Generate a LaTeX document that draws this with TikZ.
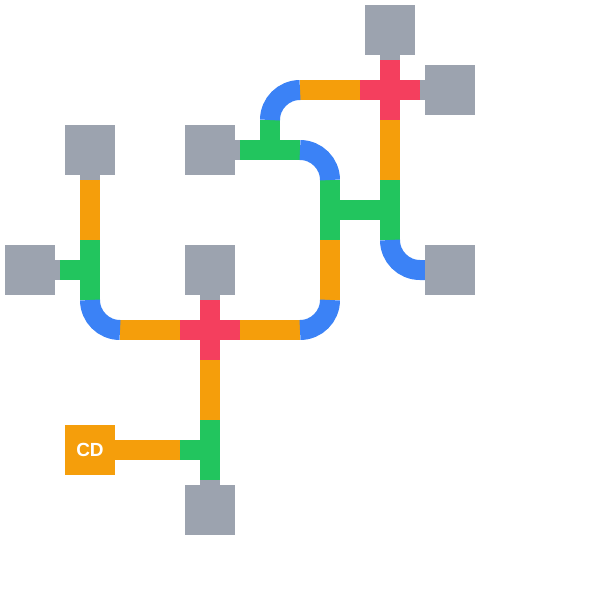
\documentclass[tikz,border=0pt]{standalone}
\usepackage{fontspec}
\setmainfont{Liberation Sans}
\definecolor{po}{HTML}{F59E0B}\definecolor{pg}{HTML}{22C55E}
\definecolor{pb}{HTML}{3B82F6}\definecolor{pr}{HTML}{F43F5E}
\definecolor{gy}{HTML}{9CA3AF}
\begin{document}
\begin{tikzpicture}[x=1pt,y=-1pt,
 pipe/.style={line width=20pt,line cap=butt},
 box/.style={fill=gy,minimum size=50pt,inner sep=0pt},
 cd/.style={fill=po,minimum size=50pt,inner sep=0pt,text=white,font=\bfseries\fontsize{19}{20}\selectfont}]
\useasboundingbox (0,0) rectangle (600,600);
\node[box] (g1) at (390,30) {};
\node[box] (g2) at (450,90) {};
\node[box] (g3) at (210,150) {};
\node[box] (g4) at (90,150) {};
\node[box] (g5) at (30,270) {};
\node[box] (g6) at (210,270) {};
\node[box] (g7) at (450,270) {};
\node[box] (g8) at (210,510) {};
\node[cd] (c) at (90,450) {CD};
% gray stubs
\draw[pipe,gy] (390,55)--(390,62) (418,90)--(425,90) (235,150)--(242,150) (90,175)--(90,182) (55,270)--(62,270) (210,295)--(210,302) (210,478)--(210,485);
% orange
\draw[pipe,po] (300,90)--(360,90);
\draw[pipe,po] (390,120)--(390,180);
\draw[pipe,po] (330,240)--(330,300);
\draw[pipe,po] (240,330)--(300,330);
\draw[pipe,po] (120,330)--(180,330);
\draw[pipe,po] (90,180)--(90,240);
\draw[pipe,po] (210,360)--(210,420);
\draw[pipe,po] (c.east)--(180,450);
% green
\draw[pipe,pg] (270,120)--(270,160) (240,150)--(300,150);
\draw[pipe,pg] (330,180)--(330,240) (330,210)--(390,210) (390,180)--(390,240);
\draw[pipe,pg] (90,240)--(90,300) (60,270)--(90,270);
\draw[pipe,pg] (210,420)--(210,480) (180,450)--(210,450);
% blue
\draw[pipe,pb,rounded corners=30pt] (300,90)--(270,90)--(270,120);
\draw[pipe,pb,rounded corners=30pt] (300,150)--(330,150)--(330,180);
\draw[pipe,pb,rounded corners=30pt] (390,240)--(390,270)--(g7.west);
\draw[pipe,pb,rounded corners=30pt] (330,300)--(330,330)--(300,330);
\draw[pipe,pb,rounded corners=30pt] (120,330)--(90,330)--(90,300);
% red
\draw[pipe,pr] (360,90)--(420,90) (390,60)--(390,120);
\draw[pipe,pr] (180,330)--(240,330) (210,300)--(210,360);
\end{tikzpicture}
\end{document}
